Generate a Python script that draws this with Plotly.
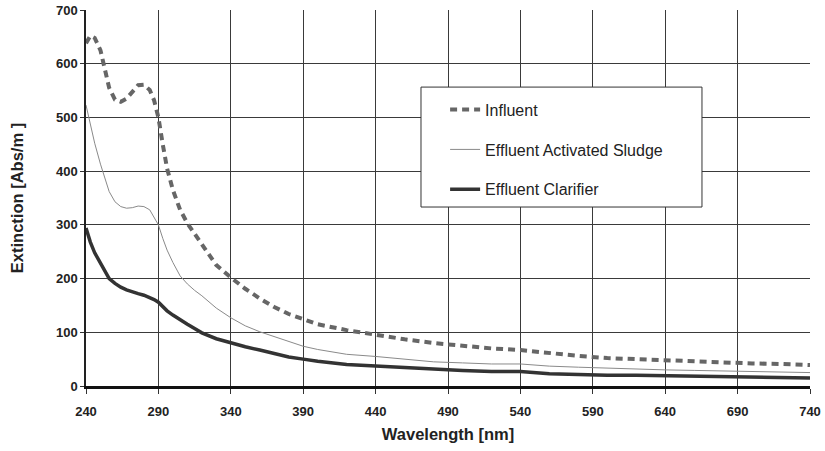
import plotly.graph_objects as go

wavelength = [240, 243, 246, 250, 253, 256, 260, 264, 268, 272, 276, 280, 284, 287, 290, 293, 296,
              300, 305, 310, 315, 320, 330, 340, 350, 360, 370, 380, 390, 400, 420, 440, 460, 480,
              500, 520, 540, 560, 580, 600, 620, 640, 660, 680, 700, 720, 740]

influent = [638, 652, 648, 625, 590, 555, 533, 529, 535, 548, 560, 561, 551, 532, 500, 450, 405,
            365, 328, 303, 283, 263, 225, 202, 181, 163, 147, 134, 124, 115, 104, 95, 87, 80,
            75, 70, 67, 61, 56, 52, 50, 47, 46, 44, 42, 41, 39]

effluent_as = [523, 488, 452, 413, 388, 362, 343, 334, 331, 332, 335, 334, 328, 315, 300, 275, 253,
               230, 205, 190, 178, 168, 145, 127, 112, 101, 92, 82, 74, 68, 59, 55, 50, 45,
               43, 41, 41, 37, 35, 33, 31, 30, 29, 28, 27, 26, 25]

effluent_clarifier = [294, 268, 248, 228, 213, 200, 191, 184, 179, 175, 172, 169, 165, 161, 156, 148, 140,
                      132, 123, 115, 107, 99, 88, 80, 73, 67, 61, 54, 50, 46, 40, 37, 34, 31,
                      29, 27, 27, 23, 21, 20, 20, 19, 18, 17, 16, 16, 15]

series_names = ["Influent", "Effluent Activated Sludge", "Effluent Clarifier"]
x_ticks = [240, 290, 340, 390, 440, 490, 540, 590, 640, 690, 740]
y_ticks = [0, 100, 200, 300, 400, 500, 600, 700]

fig = go.Figure()
fig.add_trace(go.Scatter(x=wavelength, y=influent, mode="lines", name=series_names[0],
                         legendgroup="a",
                         line=dict(color="#666666", width=4, dash="7px,5px")))
fig.add_trace(go.Scatter(x=wavelength, y=effluent_as, mode="lines", name=series_names[1],
                         legendgroup="b",
                         line=dict(color="#8a8a8a", width=1)))
fig.add_trace(go.Scatter(x=wavelength, y=effluent_clarifier, mode="lines", name=series_names[2],
                         legendgroup="c",
                         line=dict(color="#333333", width=3.5)))

fig.add_shape(type="rect", xref="paper", yref="paper",
              x0=0.4627, x1=0.8508, y0=0.476, y1=0.795,
              line=dict(color="#333333", width=1), fillcolor="white", layer="above")

font_family = "Liberation Sans, Arial, sans-serif"

fig.update_layout(
    width=825, height=451,
    margin=dict(l=86, r=15, t=10, b=65, autoexpand=False),
    paper_bgcolor="white", plot_bgcolor="white",
    font=dict(family=font_family, color="#222222"),
    showlegend=True,
    legend=dict(x=0.496, y=0.78, xanchor="left", yanchor="top",
                bgcolor="rgba(0,0,0,0)", borderwidth=0,
                font=dict(size=16, family=font_family, color="#222222"),
                tracegroupgap=16),
    xaxis=dict(range=[240, 740], tickvals=x_ticks, ticktext=[str(v) for v in x_ticks],
               showgrid=True, gridcolor="#3a3a3a", gridwidth=1,
               showline=True, linecolor="#111111", linewidth=2.5,
               ticks="outside", ticklen=5, tickcolor="#333333", ticklabelstandoff=7,
               tickfont=dict(size=13, family=font_family, color="#222222", weight="bold"),
               title=dict(text="<b>Wavelength [nm]</b>", font=dict(size=16.5, family=font_family, color="#222222"),
                          standoff=11),
               automargin=False, zeroline=False),
    yaxis=dict(range=[0, 700], tickvals=y_ticks, ticktext=[str(v) for v in y_ticks],
               showgrid=True, gridcolor="#3a3a3a", gridwidth=1,
               showline=True, linecolor="#222222", linewidth=1.5,
               ticks="outside", ticklen=4, tickcolor="#333333",
               tickfont=dict(size=13, family=font_family, color="#222222", weight="bold"),
               title=dict(text="<b>Extinction [Abs/m ]</b>", font=dict(size=16.5, family=font_family, color="#222222"),
                          standoff=28),
               automargin=False, zeroline=False),
)

fig.write_html("out.html", config={"displayModeBar": False},
               post_script="document.body.style.margin='0';document.body.style.padding='0';")
